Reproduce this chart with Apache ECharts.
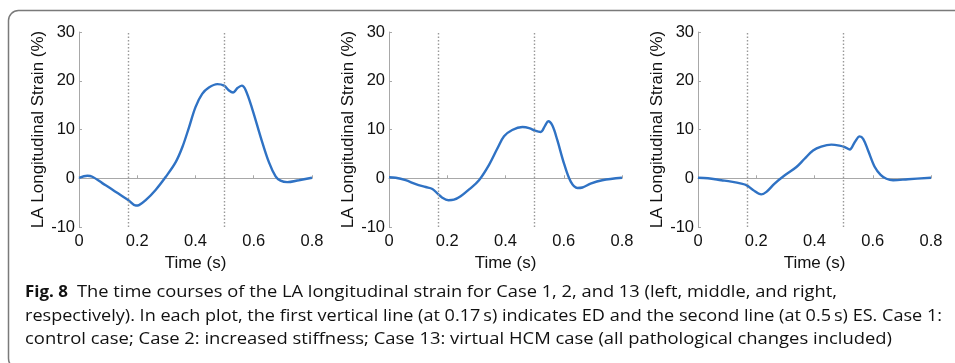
<!DOCTYPE html>
<html><head><meta charset="utf-8">
<script src="https://cdn.jsdelivr.net/npm/echarts@6/dist/echarts.min.js"></script>
<style>html,body{margin:0;padding:0;background:#fff}#c{width:955px;height:363px}</style>
</head><body><div id="c"></div>
<script>
// ---- data ----
const xTicks = [0, 0.2, 0.4, 0.6, 0.8];
const yTicks = [-10, 0, 10, 20, 30];
const markerTimes = [0.17, 0.5]; // ED, ES

const case1Time = [0,0.029,0.046,0.08,0.114,0.149,0.172,0.195,0.206,0.229,0.263,0.298,0.332,0.355,0.378,0.4,0.423,0.446,0.475,0.498,0.515,0.529,0.544,0.559,0.572,0.595,0.624,0.652,0.675,0.692,0.715,0.755,0.8];
const case1Strain = [0.1,0.5,0.3,-1.0,-2.3,-3.7,-4.6,-5.6,-5.5,-4.5,-2.4,0.3,3.3,6.4,10.5,14.6,17.3,18.6,19.3,19.0,18.0,17.6,18.5,19.0,18.1,14.2,8.4,3.3,0.4,-0.5,-0.8,-0.4,0.1];

const case2Time = [0,0.023,0.057,0.092,0.126,0.149,0.166,0.183,0.204,0.223,0.246,0.275,0.309,0.343,0.372,0.395,0.423,0.458,0.481,0.504,0.521,0.536,0.547,0.561,0.578,0.601,0.624,0.647,0.664,0.692,0.732,0.8];
const case2Strain = [0.2,0.1,-0.4,-1.2,-1.8,-2.2,-3.1,-4.0,-4.5,-4.4,-3.7,-2.3,-0.4,2.7,6.1,8.6,9.9,10.5,10.3,9.7,9.5,10.8,11.7,10.8,7.8,3.0,-0.7,-2.0,-1.9,-1.1,-0.4,0.1];

const case13Time = [0,0.034,0.08,0.114,0.149,0.166,0.189,0.217,0.235,0.263,0.298,0.338,0.366,0.395,0.423,0.458,0.486,0.504,0.521,0.538,0.555,0.567,0.584,0.607,0.627,0.647,0.67,0.721,0.8];
const case13Strain = [0.1,0,-0.4,-0.7,-1.1,-1.4,-2.4,-3.3,-2.8,-1.1,0.6,2.3,4.0,5.7,6.5,6.9,6.7,6.4,5.9,7.4,8.6,8.1,5.7,2.3,0.7,-0.1,-0.4,-0.2,0.1];

const xTitle = 'Time (s)';
const yTitle = 'LA Longitudinal Strain (%)';
const captionBold = 'Fig. 8';
const captionLines = [
  'The time courses of the LA longitudinal strain for Case 1, 2, and 13 (left, middle, and right,',
  'respectively). In each plot, the first vertical line (at 0.17\u2009s) indicates ED and the second line (at 0.5\u2009s) ES. Case 1:',
  'control case; Case 2: increased stiffness; Case 13: virtual HCM case (all pathological changes included)'
];

// ---- chart ----
const cases = [[case1Time, case1Strain], [case2Time, case2Strain], [case13Time, case13Strain]];
const lefts = [79, 389, 698];
const axisFont = '"Liberation Sans", Arial, sans-serif';
const grids = lefts.map(l => ({left: l, top: 32, width: 233, height: 195}));
const xAxes = grids.map((g, i) => ({
  type: 'value', gridIndex: i, min: xTicks[0], max: xTicks[xTicks.length-1],
  interval: xTicks[1]-xTicks[0],
  name: xTitle, nameLocation: 'middle', nameGap: 26,
  nameTextStyle: {fontFamily: axisFont, fontSize: 17, color: '#111'},
  axisLine: {show: true, lineStyle: {color: '#a8a8a8', width: 1}},
  axisTick: {show: true, inside: true, length: 3, lineStyle: {color: '#a8a8a8'}},
  axisLabel: {margin: 6, fontFamily: axisFont, fontSize: 16.5, color: '#111',
    formatter: v => String(+v.toFixed(1))},
  splitLine: {show: false}
}));
const yAxes = grids.map((g, i) => ({
  type: 'value', gridIndex: i, min: yTicks[0], max: yTicks[yTicks.length-1],
  interval: yTicks[1]-yTicks[0],
  name: yTitle, nameLocation: 'middle', nameGap: 30,
  nameTextStyle: {fontFamily: axisFont, fontSize: 17, color: '#111'},
  axisLine: {show: true, lineStyle: {color: '#a8a8a8', width: 1}},
  axisTick: {show: true, inside: true, length: 3, lineStyle: {color: '#a8a8a8'}},
  axisLabel: {margin: 4, fontFamily: axisFont, fontSize: 16.5, color: '#111'},
  splitLine: {show: false}
}));
const series = cases.map((c, i) => ({
  type: 'line', xAxisIndex: i, yAxisIndex: i,
  data: c[0].map((t, k) => [t, c[1][k]]),
  smooth: 0.35, showSymbol: false, symbol: 'none',
  lineStyle: {color: '#2f72c4', width: 2.4},
  markLine: {
    silent: true, symbol: 'none', label: {show: false},
    lineStyle: {color: '#999', type: [1.5, 2], width: 1.4},
    data: markerTimes.map(t => ({xAxis: t}))
  },
  z: 3
}));

// caption with horizontal fitting
const capFont = '"Open Sans", "Noto Sans", sans-serif';
const capSize = 16.5;
const cv = document.createElement('canvas').getContext('2d');
function measure(txt, bold) {
  cv.font = (bold ? 'bold ' : '') + capSize + 'px ' + capFont;
  return cv.measureText(txt).width;
}
const capLeft = 25;
const capRight = [837, 942, 892];
const capBaseY = [298, 322, 345];
const fitStart = 77;
const graphics = [{
  type: 'rect', shape: {x: 8.5, y: 10.5, width: 1000, height: 358, r: 10},
  style: {fill: 'none', stroke: '#7a7a7a', lineWidth: 1.5}, silent: true
}];
const boldW = measure(captionBold, true);
graphics.push({
  type: 'text', x: capLeft, y: capBaseY[0] - 6, scaleX: 43 / boldW,
  style: {text: captionBold, x: 0, y: 0, fontFamily: capFont, fontSize: capSize, fontWeight: 'bold',
    fill: '#111', align: 'left', verticalAlign: 'middle'}
});
captionLines.forEach((line, i) => {
  const start = i === 0 ? fitStart : capLeft;
  const w = measure(line, false);
  graphics.push({
    type: 'text', x: start, y: capBaseY[i] - 6, scaleX: (capRight[i] - start) / w,
    style: {text: line, x: 0, y: 0, fontFamily: capFont, fontSize: capSize,
      fill: '#111', align: 'left', verticalAlign: 'middle'}
  });
});

const chart = echarts.init(document.getElementById('c'), null, {renderer: 'canvas'});
chart.setOption({
  animation: false,
  backgroundColor: '#fff',
  grid: grids, xAxis: xAxes, yAxis: yAxes, series: series,
  graphic: graphics
});
</script>
</body></html>
